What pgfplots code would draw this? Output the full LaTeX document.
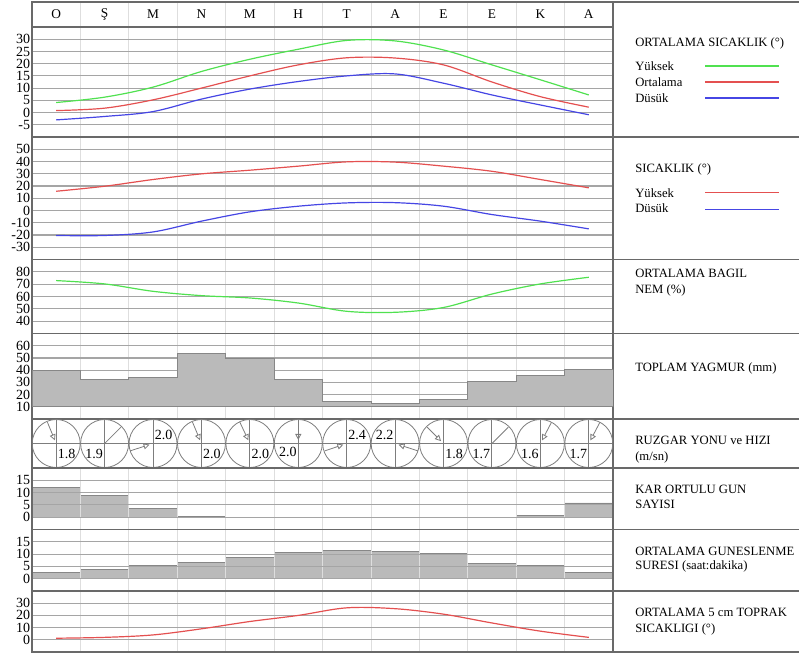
\documentclass[border=0pt]{standalone}
\usepackage{pgfplots}
\pgfplotsset{compat=1.18}
\usepackage{fontspec}
\setmainfont{Liberation Serif}
\usetikzlibrary{arrows.meta}
\definecolor{cgreen}{RGB}{80,225,80}
\definecolor{cred}{RGB}{228,80,80}
\definecolor{cblue}{RGB}{70,70,228}
\definecolor{frame}{RGB}{105,105,105}
\definecolor{hgrid}{RGB}{165,165,165}
\definecolor{vgrid}{RGB}{222,222,222}
\definecolor{barfill}{RGB}{186,186,186}
\definecolor{bardraw}{RGB}{135,135,135}
\definecolor{wind}{RGB}{125,125,125}
\pgfplotsset{
  panel/.style={scale only axis, width=435.75pt, xmin=0, xmax=12,
    xtick={1,...,11}, xticklabels={}, xmajorgrids, ymajorgrids,
    x grid style={vgrid, line width=0.6pt},
    y grid style={hgrid, line width=0.9pt},
    major tick length=0pt,
    axis line style={frame, line width=1.2pt},
    /pgf/number format/assume math mode=true,
    yticklabel style={font=\fontsize{10.5}{12}\selectfont, inner sep=0pt, xshift=-1.2pt},
    anchor=north west},
  curve/.style={smooth, tension=0.55, line width=0.9pt, mark=none},
  labs/.style={only marks, mark=*, mark size=0pt, mark options={draw=none, fill=none},
    nodes near coords, point meta=explicit symbolic,
    every node near coord/.append style={anchor=center, inner sep=0pt, font=#1}},
}
\begin{document}
\begin{tikzpicture}
\useasboundingbox (0,0) rectangle (599.25pt,-491.25pt);
% header
\begin{axis}[panel, at={(24pt,-1.5pt)}, height=18.75pt, ymin=0, ymax=1, ytick=\empty, ymajorgrids=false]
\addplot[labs={\fontsize{10}{12}\selectfont}] table[meta=m] {
x y m
0.5 0.5 O
1.5 0.5 Ş
2.5 0.5 M
3.5 0.5 N
4.5 0.5 M
5.5 0.5 H
6.5 0.5 T
7.5 0.5 A
8.5 0.5 E
9.5 0.5 E
10.5 0.5 K
11.5 0.5 A
};
\end{axis}
% P1 ortalama sicaklik
\begin{axis}[panel, at={(24pt,-20.25pt)}, height=82.5pt, ymin=-10, ymax=35, ytick={-5,0,...,30}]
\addplot[curve, cgreen] coordinates {(0.5,4.1)(1.5,6.3)(2.5,10.4)(3.5,16.8)(4.5,21.8)(5.5,25.9)(6.5,29.5)(7.5,29.3)(8.5,25.6)(9.5,19.5)(10.5,13.4)(11.5,7.2)};
\addplot[curve, cred] coordinates {(0.5,0.8)(1.5,1.8)(2.5,5.2)(3.5,10.0)(4.5,15.0)(5.5,19.5)(6.5,22.4)(7.5,22.3)(8.5,19.5)(9.5,12.5)(10.5,6.5)(11.5,2.2)};
\addplot[curve, cblue] coordinates {(0.5,-3.0)(1.5,-1.6)(2.5,0.4)(3.5,5.5)(4.5,9.6)(5.5,12.7)(6.5,15.0)(7.5,15.8)(8.5,12.0)(9.5,7.2)(10.5,3.1)(11.5,-0.9)};
\end{axis}
% P2 sicaklik
\begin{axis}[panel, at={(24pt,-102.75pt)}, height=91.875pt, ymin=-40, ymax=60, ytick={-30,-20,...,50}]
\addplot[curve, cred] coordinates {(0.5,15.7)(1.5,19.8)(2.5,25.3)(3.5,29.9)(4.5,32.9)(5.5,36.2)(6.5,39.7)(7.5,39.5)(8.5,36.2)(9.5,32.0)(10.5,25.3)(11.5,18.5)};
\addplot[curve, cblue] coordinates {(0.5,-20.4)(1.5,-20.4)(2.5,-17.5)(3.5,-8.7)(4.5,-1.1)(5.5,3.5)(6.5,6.2)(7.5,6.4)(8.5,3.5)(9.5,-3.3)(10.5,-8.7)(11.5,-15.0)};
\end{axis}
% P3 nem
\begin{axis}[panel, at={(24pt,-194.625pt)}, height=55.5pt, ymin=30, ymax=90, ytick={40,50,...,80}]
\addplot[curve, cgreen] coordinates {(0.5,72.9)(1.5,70.2)(2.5,64.2)(3.5,60.7)(4.5,58.8)(5.5,54.7)(6.5,48.0)(7.5,47.2)(8.5,51.1)(9.5,62.0)(10.5,70.2)(11.5,75.6)};
\end{axis}
% P4 yagmur
\begin{axis}[panel, at={(24pt,-250.125pt)}, height=64.125pt, ymin=0, ymax=70, ytick={10,20,...,60}]
\addplot[const plot, fill=barfill, draw=bardraw, line width=0.6pt] coordinates {(0,39.5)(1,32.4)(2,34.3)(3,53.4)(4,49.8)(5,32.6)(6,14.4)(7,12.5)(8,16.0)(9,30.4)(10,35.4)(11,40.7)(12,40.7)} -- (axis cs:12,10) -- (axis cs:0,10) -- cycle;
\end{axis}
% P5 ruzgar
\begin{axis}[panel, at={(24pt,-314.25pt)}, height=36.75pt, ymin=-24.5, ymax=24.5,
  xtick={0.5,1.5,...,11.5}, ytick={0}, yticklabels={},
  x grid style={wind, line width=0.7pt}, y grid style={wind, line width=0.7pt}, clip=false]
\addplot[only marks, mark=o, mark size=18pt, mark options={draw=wind, line width=0.6pt}] coordinates {(0.5,0)(1.5,0)(2.5,0)(3.5,0)(4.5,0)(5.5,0)(6.5,0)(7.5,0)(8.5,0)(9.5,0)(10.5,0)(11.5,0)};
\addplot[quiver={u=\thisrow{u}, v=\thisrow{v}}, -{Triangle[open, length=4.5pt, width=4.5pt]}, wind, line width=0.6pt] table {
x y u v
0.318 21.3 0.155 -18.1
2.025 -7.4 0.404 6.3
3.314 21.5 0.158 -18.3
4.293 21.3 0.176 -18.1
5.5 23 0 -19.5
6.045 -7.4 0.386 6.3
7.971 -7.4 -0.400 6.3
8.163 16.3 0.286 -13.9
10.727 21 -0.193 -17.9
11.727 21 -0.193 -17.9
};
\addplot[quiver={u=\thisrow{u}, v=\thisrow{v}}, wind, line width=0.6pt] table {
x y u v
1.837 16.3 -0.337 -16.3
9.837 16.3 -0.337 -16.3
};
\addplot[labs={\fontsize{10.5}{12}\selectfont}] table[meta=lab] {
x y lab
0.717 -10 1.8
1.283 -10 1.9
2.717 9 2.0
3.717 -10 2.0
4.717 -10 2.0
5.283 -8 2.0
6.717 9 2.4
7.283 9 2.2
8.717 -10 1.8
9.283 -10 1.7
10.283 -10 1.6
11.283 -10 1.7
};
\end{axis}
% P6 kar
\begin{axis}[panel, at={(24pt,-351pt)}, height=46.125pt, ymin=-5, ymax=20, ytick={0,5,10,15}, axis on top]
\addplot[const plot, fill=barfill, draw=bardraw, line width=0.6pt] coordinates {(0,12.2)(1,8.7)(2,3.5)(3,0.4)(4,0)(5,0)(6,0)(7,0)(8,0)(9,0)(10,0.7)(11,5.8)(12,5.8)} \closedcycle;
\end{axis}
% P7 gunes
\begin{axis}[panel, at={(24pt,-397.125pt)}, height=46.125pt, ymin=-5, ymax=20, ytick={0,5,10,15}, axis on top]
\addplot[const plot, fill=barfill, draw=bardraw, line width=0.6pt] coordinates {(0,2.7)(1,3.9)(2,5.5)(3,6.6)(4,8.8)(5,10.5)(6,11.6)(7,11.1)(8,10.3)(9,6.3)(10,5.3)(11,2.4)(12,2.4)} \closedcycle;
\end{axis}
% P8 toprak
\begin{axis}[panel, at={(24pt,-443.25pt)}, height=45.75pt, ymin=-10, ymax=40, ytick={0,10,20,30}]
\addplot[curve, cred] coordinates {(0.5,1.3)(1.5,2.0)(2.5,4.0)(3.5,9.0)(4.5,15.0)(5.5,20.0)(6.5,26.2)(7.5,25.5)(8.5,21.0)(9.5,13.8)(10.5,7.1)(11.5,2.0)};
\end{axis}
% legend column
\begin{scope}[x=0.75pt, y=-0.75pt]
\foreach \yy in {2,137,259.5,333.5,419,468,529.5,591,652}
  \draw[frame, line width=1.2pt] (613,\yy) -- (799,\yy);
\tikzset{lt/.style={anchor=base west, inner sep=0pt, font=\fontsize{9.5}{11}\selectfont}}
\node[lt] at (635,46.5) {ORTALAMA SICAKLIK (°)};
\node[lt] at (635,70.5) {Yüksek};
\node[lt] at (635,86.5) {Ortalama};
\node[lt] at (635,102.5) {Düsük};
\draw[cgreen, line width=0.9pt] (705,66) -- (779,66);
\draw[cred, line width=0.9pt] (705,82) -- (779,82);
\draw[cblue, line width=0.9pt] (705,98) -- (779,98);
\node[lt] at (635,172.5) {SICAKLIK (°)};
\node[lt] at (635,197.5) {Yüksek};
\node[lt] at (635,212.5) {Düsük};
\draw[cred, line width=0.9pt] (705,192.7) -- (779,192.7);
\draw[cblue, line width=0.9pt] (705,209.3) -- (779,209.3);
\node[lt] at (635,278) {ORTALAMA BAGIL};
\node[lt] at (635,293.5) {NEM (\%)};
\node[lt] at (635,371.5) {TOPLAM YAGMUR (mm)};
\node[lt] at (635,444.5) {RUZGAR YONU ve HIZI};
\node[lt] at (635,460.5) {(m/sn)};
\node[lt] at (635,493.5) {KAR ORTULU GUN};
\node[lt] at (635,508) {SAYISI};
\node[lt] at (635,555.5) {ORTALAMA GUNESLENME};
\node[lt] at (635,569) {SURESI (saat:dakika)};
\node[lt] at (635,616.5) {ORTALAMA 5 cm TOPRAK};
\node[lt] at (635,632.5) {SICAKLIGI (°)};
\end{scope}
\end{tikzpicture}
\end{document}
